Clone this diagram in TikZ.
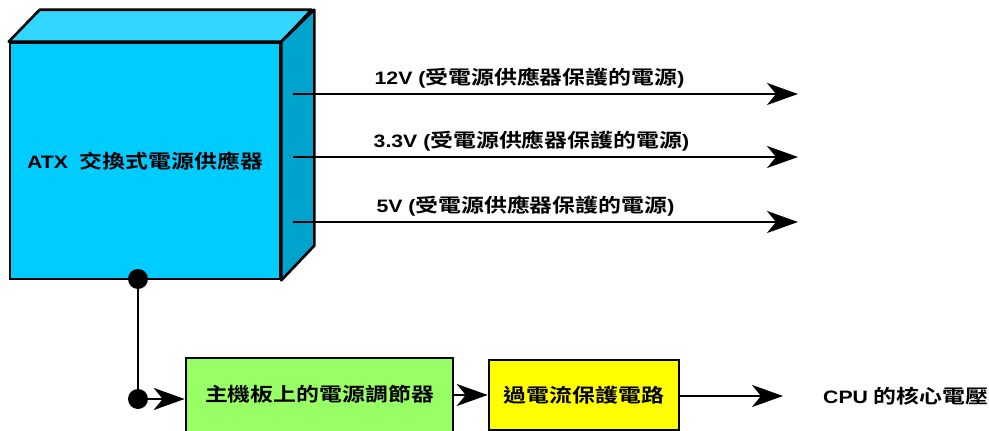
\documentclass[tikz,border=0pt]{standalone}
\usepackage{fontspec}
\setmainfont{Liberation Sans}[FakeStretch=1.18]
\newfontfamily\cjk{Noto Sans CJK TC}[BoldFont={Noto Sans CJK TC Bold},Scale=1.06,FakeStretch=1.2]
\usetikzlibrary{arrows.meta}
\newcommand{\zh}[1]{{\cjk #1}}
\definecolor{psufront}{HTML}{00CCFF}
\definecolor{psutop}{HTML}{33D6FF}
\definecolor{psuside}{HTML}{00A3CC}
\definecolor{regfill}{HTML}{99FF66}
\definecolor{ocpfill}{HTML}{FFFF00}

\begin{document}
\begin{tikzpicture}[x=1pt,y=-1pt,
    lbl/.style={font=\fontsize{18pt}{21pt}\selectfont\bfseries},
    wire/.style={black,line width=2.6pt},
    arr/.style={wire,-{Stealth[length=31pt,width=22pt,inset=9pt]}},
    blk/.style={draw=black,line width=2.6pt,inner sep=0pt,lbl}]
  \useasboundingbox (0,0) rectangle (989,431);

  % power supply cube
  \node (psu) [blk,fill=psufront,minimum width=270pt,minimum height=236pt] at (145,161) {};
  \draw [line width=2.6pt,fill=psutop,line join=round] (psu.north west) -- ++(31,-32) -- ++(272,0) -- (psu.north east) -- cycle;
  \draw [line width=2.6pt,fill=psuside,line join=round] (psu.north east) -- ++(33,-32) -- ++(0,236) -- (psu.south east) -- cycle;
  \node [lbl] at (psu.center) {ATX\ \ \zh{交換式電源供應器}};

  % outputs of the supply
  \coordinate (s12) at (293,94);   \coordinate (e12) at (798,94);
  \coordinate (s33) at (293,157);  \coordinate (e33) at (798,157);
  \coordinate (s5) at (293,222);   \coordinate (e5) at (798,222);
  \draw [arr] (s12) -- (e12) node[midway,above=1pt,xshift=-16pt,lbl] {12V (\zh{受電源供應器保護的電源})};
  \draw [arr] (s33) -- (e33) node[midway,above=1pt,xshift=-14pt,lbl] {3.3V (\zh{受電源供應器保護的電源})};
  \draw [arr] (s5) -- (e5) node[midway,above=1pt,xshift=-20pt,lbl] {5V (\zh{受電源供應器保護的電源})};

  % regulator chain
  \coordinate (tap) at (138,279);
  \coordinate (knee) at (138,399);
  \node (reg) [blk,fill=regfill,minimum width=267pt,minimum height=80pt] at (319.5,398) {};
  \node [lbl] at (319.5,394) {\zh{主機板上的電源調節器}};
  \node (ocp) [blk,fill=ocpfill,minimum width=190pt,minimum height=70pt] at (584,395) {\zh{過電流保護電路}};
  \coordinate (cpuend) at (783,396);
  \node (cpu) [lbl,anchor=west,inner sep=0pt] at (823,396) {CPU \zh{的核心電壓}};

  \draw [wire] (tap) -- (knee);
  \draw [arr] (knee) -- (reg.west |- knee);
  \draw [arr] (reg.east |- ocp) -- (ocp.west);
  \draw [arr] (ocp.east |- cpuend) -- (cpuend);
  \fill (tap) circle (10pt);
  \fill (knee) circle (10pt);
\end{tikzpicture}
\end{document}
